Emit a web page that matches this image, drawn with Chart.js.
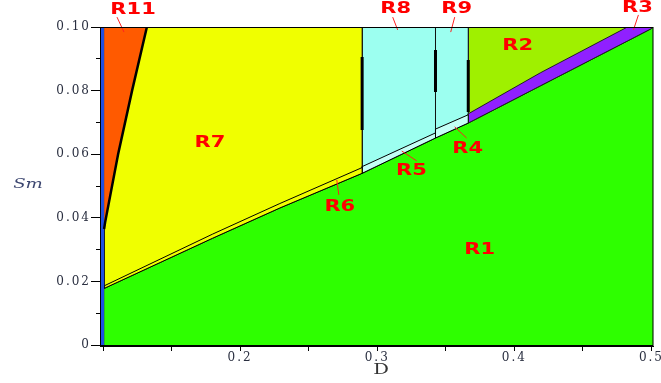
<!DOCTYPE html>
<html>
<head>
<meta charset="utf-8">
<script src="https://cdn.jsdelivr.net/npm/chart.js@4.4.1/dist/chart.umd.min.js"></script>
<style>
  html, body { margin: 0; padding: 0; background: #fff; overflow: hidden; }
</style>
</head>
<body>
<canvas id="regionChart" width="661" height="383"></canvas>
<script>
// ===== 坐标范围与刻度 =====
const X_MIN = 0.0978, X_MAX = 0.5015, Y_MIN = -0.0003, Y_MAX = 0.1;
const xTicks      = [0.1, 0.15, 0.2, 0.25, 0.3, 0.35, 0.4, 0.45, 0.5];
const xTickLabels = ["", "", "0.2", "", "0.3", "", "0.4", "", "0.5"];
const yTicks      = [0, 0.01, 0.02, 0.03, 0.04, 0.05, 0.06, 0.07, 0.08, 0.09, 0.1];
const yTickLabels = ["0", "", "0.02", "", "0.04", "", "0.06", "", "0.08", "", "0.10"];

// ===== 区域边界 =====
// R1 上边界
const r1D  = [0.1008, 0.18, 0.229, 0.289, 0.3425, 0.3664, 0.419, 0.4825, 0.5, 0.5015];
const r1Sm = [0.0178, 0.0336, 0.0431, 0.054, 0.0651, 0.0698, 0.0815, 0.0956, 0.0995, 0.1];

// 贴着 R1 的窄带
const r6D  = [0.1008, 0.18, 0.229, 0.289];
const r6Lo = [0.0178, 0.0336, 0.0431, 0.054];
const r6Hi = [0.0186, 0.0349, 0.0445, 0.0558];
const r5D  = [0.289, 0.3425];
const r5Lo = [0.054, 0.0651];
const r5Hi = [0.0561, 0.0667];
const r4D  = [0.3425, 0.3664];
const r4Lo = [0.0651, 0.0698];
const r4Hi = [0.0679, 0.0724];
const r3D  = [0.3664, 0.419, 0.4825, 0.5];
const r3Lo = [0.0698, 0.0815, 0.0956, 0.0995];
const r3Hi = [0.0727, 0.0856, 0.1, 0.1];

// R11 / R7 分界
const r11D  = [0.1008, 0.1015, 0.111, 0.1212, 0.132];
const r11Sm = [0.0365, 0.0385, 0.06, 0.08, 0.1];

// 竖直分界：R7 | R8 | R9 | R2
const blockD = [0.1008, 0.289, 0.3425, 0.3664, 0.4825];
const blueD  = [0.0978, 0.1008];

// 粗黑线段
const wallD  = [0.289, 0.3425, 0.3664];
const wallLo = [0.0676, 0.0796, 0.0733];
const wallHi = [0.0906, 0.0928, 0.0896];

// 区域标注
const labelText = ["R11", "R8", "R9", "R3", "R2", "R7", "R4", "R5", "R6", "R1"];
const labelD    = [0.1219, 0.3135, 0.3579, 0.4898, 0.4024, 0.178, 0.366, 0.325, 0.2727, 0.3747];
const labelSm   = [0.1053, 0.1057, 0.1057, 0.106, 0.094, 0.0635, 0.0616, 0.0547, 0.0434, 0.0299];

// 引线
const leaderD1  = [0.1102, 0.3113, 0.3565, 0.4905, 0.3565, 0.3179, 0.2705];
const leaderSm1 = [0.1031, 0.1031, 0.1031, 0.1038, 0.0686, 0.061, 0.0519];
const leaderD2  = [0.1153, 0.3149, 0.3536, 0.4869, 0.3652, 0.3288, 0.272];
const leaderSm2 = [0.0984, 0.0991, 0.0984, 0.0991, 0.0651, 0.0579, 0.0472];

const COLORS = {
  green: "#2eff00", yellow: "#f0ff00", lime: "#9ff000", cyan: "#9cfff0",
  paleCyan: "#c4fff6", purple: "#9020ff", orange: "#ff5a00", blue: "#2050e0"
};

function pts(xs, ys) {
  return xs.map((x, i) => ({ x, y: ys[i] }));
}
// 下边界正向 + 上边界反向，闭合
function bandPts(xs, lo, hi) {
  const p = pts(xs, lo);
  for (let i = xs.length - 1; i >= 0; i--) p.push({ x: xs[i], y: hi[i] });
  p.push(p[0]);
  return p;
}
function rectPts(x0, x1, y0, y1) {
  return bandPts([x0, x1], [y0, y0], [y1, y1]);
}
function poly(data, color, order, border) {
  return {
    data, backgroundColor: color, fill: "shape", order,
    borderColor: border || "rgba(0,0,0,0)", borderWidth: border ? 1 : 0,
    pointRadius: 0, tension: 0
  };
}
function stroke(data, color, width, order, clip) {
  const ds = { data, borderColor: color, borderWidth: width, fill: false, order, pointRadius: 0, tension: 0 };
  if (clip === false) ds.clip = false;
  return ds;
}

const datasets = [];
// 底层竖块
const blockColors = [COLORS.yellow, COLORS.cyan, COLORS.cyan, COLORS.lime];
for (let i = 0; i < blockD.length - 1; i++) {
  datasets.push(poly(rectPts(blockD[i], blockD[i + 1], Y_MIN, Y_MAX), blockColors[i], 6, "#111"));
}
// R11
datasets.push(poly(pts(r11D, r11Sm).concat([{ x: blueD[1], y: Y_MAX }, { x: r11D[0], y: r11Sm[0] }]), COLORS.orange, 5));
// R1
datasets.push({ data: pts(r1D, r1Sm), backgroundColor: COLORS.green, fill: "start", order: 4,
  borderColor: "#000", borderWidth: 1, pointRadius: 0, tension: 0 });
// 窄带
datasets.push(poly(bandPts(r6D, r6Lo, r6Hi), COLORS.yellow, 3, "#000"));
datasets.push(poly(bandPts(r5D, r5Lo, r5Hi), COLORS.paleCyan, 3, "#000"));
datasets.push(poly(bandPts(r4D, r4Lo, r4Hi), COLORS.paleCyan, 3, "#000"));
datasets.push(poly(bandPts(r3D, r3Lo, r3Hi), COLORS.purple, 3, "#222"));
// 蓝色竖条
datasets.push(poly(rectPts(blueD[0], blueD[1], Y_MIN, Y_MAX), COLORS.blue, 2));
// 粗线
datasets.push(stroke(pts(r11D, r11Sm), "#000", 2.5, 1));
wallD.forEach((d, i) => datasets.push(stroke(pts([d, d], [wallLo[i], wallHi[i]]), "#000", 3, 1)));
// 引线
leaderD1.forEach((d, i) => datasets.push(stroke(pts([d, leaderD2[i]], [leaderSm1[i], leaderSm2[i]]), "#ff2020", 1, 0, false)));

function drawWide(ctx, txt, px, py, sx) {
  ctx.save();
  ctx.translate(px, py);
  ctx.scale(sx, 1);
  ctx.fillText(txt, 0, 0);
  ctx.restore();
}

const textPlugin = {
  id: "texts",
  beforeDraw(chart) { chart.ctx.letterSpacing = "2px"; },
  afterDraw(chart) {
    const { ctx, chartArea: a, scales: { x, y } } = chart;
    ctx.save();
    ctx.letterSpacing = "0px";
    ctx.strokeStyle = "#000";
    ctx.lineWidth = 1;
    ctx.strokeRect(a.left + 0.5, a.top + 0.5, a.right - a.left - 1, a.bottom - a.top - 1);

    ctx.fillStyle = "#ff0000";
    ctx.font = "bold 15px 'DejaVu Sans'";
    ctx.textAlign = "center";
    ctx.textBaseline = "middle";
    labelText.forEach((t, i) => drawWide(ctx, t, x.getPixelForValue(labelD[i]), y.getPixelForValue(labelSm[i]), 1.4));

    ctx.fillStyle = "#3c4670";
    ctx.font = "italic 13px 'DejaVu Serif'";
    drawWide(ctx, "Sm", 28, 185, 1.4);
    ctx.fillStyle = "#333";
    ctx.font = "14px 'DejaVu Serif'";
    drawWide(ctx, "D", 381, 370, 1.4);
    ctx.restore();
  }
};

new Chart(document.getElementById("regionChart"), {
  type: "line",
  data: { datasets },
  plugins: [textPlugin],
  options: {
    responsive: false,
    devicePixelRatio: 1,
    animation: false,
    layout: { padding: { top: 27, right: 7, left: 0, bottom: 0 } },
    plugins: { legend: { display: false }, tooltip: { enabled: false } },
    scales: {
      x: {
        type: "linear", position: "bottom", min: X_MIN, max: X_MAX, bounds: "data",
        afterFit: (s) => { s.height = 37; },
        afterBuildTicks: (s) => { s.ticks = xTicks.map((v) => ({ value: v })); },
        grid: { drawOnChartArea: false, tickLength: 5, tickColor: "#000" },
        border: { color: "#000", width: 1, z: 1 },
        ticks: {
          autoSkip: false, maxRotation: 0, padding: 0, color: "#2a2f40",
          font: { family: "'DejaVu Serif'", size: 12 },
          callback: (v, i) => xTickLabels[i]
        }
      },
      y: {
        type: "linear", min: Y_MIN, max: Y_MAX, bounds: "data",
        afterFit: (s) => { s.width = 100; },
        afterBuildTicks: (s) => { s.ticks = yTicks.map((v) => ({ value: v })); },
        grid: {
          drawOnChartArea: false, tickLength: 9, tickColor: "#000",
          tickBorderDash: (c) => (yTickLabels[c.index] ? [] : [0, 5, 5, 0])
        },
        border: { color: "#000", width: 1, z: 1 },
        ticks: {
          autoSkip: false, padding: 0, color: "#2a2f40",
          font: { family: "'DejaVu Serif'", size: 12 },
          callback: (v, i) => yTickLabels[i]
        }
      }
    }
  }
});
</script>
</body>
</html>
